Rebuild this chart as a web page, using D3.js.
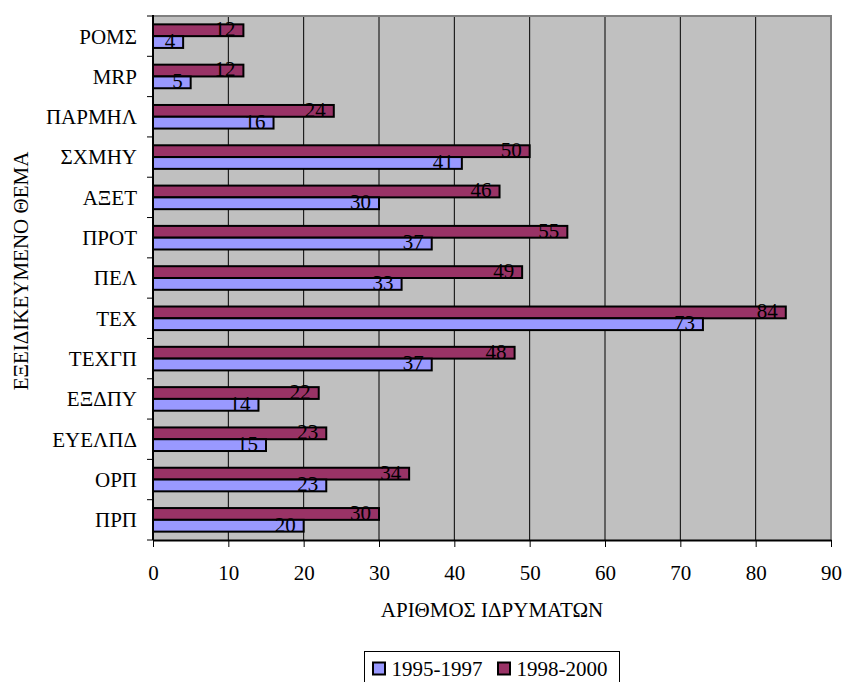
<!DOCTYPE html>
<html>
<head>
<meta charset="utf-8">
<script src="https://cdn.jsdelivr.net/npm/d3@7"></script>
<style>
  html, body { margin: 0; padding: 0; background: #ffffff; }
  svg { display: block; }
  svg text { font-family: "Liberation Serif", "Times New Roman", "DejaVu Serif", serif !important; fill: #000; }
</style>
</head>
<body>
<svg id="chart" width="842" height="682" font-family="Liberation Serif"></svg>
<script>
// Categories, top to bottom
const categories = ["ΡΟΜΣ", "MRP", "ΠΑΡΜΗΛ", "ΣΧΜΗΥ", "ΑΞΕΤ", "ΠΡΟΤ", "ΠΕΛ", "ΤΕΧ", "ΤΕΧΓΠ", "ΕΞΔΠΥ", "ΕΥΕΛΠΔ", "ΟΡΠ", "ΠΡΠ"];
// Number of institutions per period
const values1995_1997 = [4, 5, 16, 41, 30, 37, 33, 73, 37, 14, 15, 23, 20];
const values1998_2000 = [12, 12, 24, 50, 46, 55, 49, 84, 48, 22, 23, 34, 30];
const seriesNames = ["1995-1997", "1998-2000"];
const xTicks = [0, 10, 20, 30, 40, 50, 60, 70, 80, 90];
const xTitle = "ΑΡΙΘΜΟΣ ΙΔΡΥΜΑΤΩΝ";
const yTitle = "ΕΞΕΙΔΙΚΕΥΜΕΝΟ ΘΕΜΑ";

const colors = { "1995-1997": "#9999ff", "1998-2000": "#993366" };
const plot = { left: 153, right: 831, top: 16, bottom: 540 };
const fontSize = 21;

const svg = d3.select("#chart");

const x = d3.scaleLinear().domain([0, 90]).range([plot.left, plot.right]);
const y = d3.scaleBand().domain(categories).range([plot.top, plot.bottom])
  .paddingInner(0.415).paddingOuter(0.2075);
// Inside each group: later period on top, earlier below
const sub = d3.scaleBand().domain(["1998-2000", "1995-1997"]).range([0, y.bandwidth()]);

// Plot background
svg.append("rect")
  .attr("x", plot.left).attr("y", plot.top)
  .attr("width", plot.right - plot.left).attr("height", plot.bottom - plot.top)
  .attr("fill", "#c0c0c0");

// Vertical gridlines
svg.append("g").selectAll("line")
  .data(xTicks.filter(d => d > 0 && d < 90))
  .join("line")
  .attr("x1", d => x(d)).attr("x2", d => x(d))
  .attr("y1", plot.top).attr("y2", plot.bottom)
  .attr("stroke", "#000").attr("stroke-width", 1);

// Top and right frame
svg.append("path")
  .attr("d", `M${plot.left},${plot.top}H${plot.right}V${plot.bottom}`)
  .attr("fill", "none").attr("stroke", "#808080").attr("stroke-width", 2);

// Bars
const rows = categories.map((c, i) => ({
  cat: c,
  bars: [
    { series: "1998-2000", value: values1998_2000[i] },
    { series: "1995-1997", value: values1995_1997[i] }
  ]
}));

const groups = svg.append("g").selectAll("g")
  .data(rows).join("g")
  .attr("transform", d => `translate(0,${y(d.cat)})`);

groups.selectAll("rect")
  .data(d => d.bars).join("rect")
  .attr("x", x(0))
  .attr("y", d => sub(d.series))
  .attr("width", d => x(d.value) - x(0))
  .attr("height", sub.bandwidth())
  .attr("fill", d => colors[d.series])
  .attr("stroke", "#000").attr("stroke-width", 2);

groups.selectAll("text")
  .data(d => d.bars).join("text")
  .attr("x", d => x(d.value) - 8)
  .attr("y", d => sub(d.series) + sub.bandwidth())
  .attr("text-anchor", "end")
  .attr("font-size", fontSize)
  .text(d => d.value);

// X axis
const xAxis = svg.append("g")
  .attr("transform", `translate(0,${plot.bottom})`)
  .call(d3.axisBottom(x).tickValues(xTicks).tickSize(7).tickPadding(18).tickSizeOuter(0));
xAxis.attr("font-family", null);
xAxis.select(".domain").attr("stroke", "#000").attr("stroke-width", 2);
xAxis.selectAll(".tick line").attr("stroke", "#000");
xAxis.selectAll("text").attr("font-size", fontSize);

// Y axis: line, ticks at group boundaries, labels at centres
const boundaries = categories.map(c => y(c) - y.step() * y.paddingInner() / 2).concat([plot.bottom]);
svg.append("line")
  .attr("x1", plot.left).attr("x2", plot.left)
  .attr("y1", plot.top - 1).attr("y2", plot.bottom)
  .attr("stroke", "#000").attr("stroke-width", 2);
svg.append("g").selectAll("line")
  .data(boundaries).join("line")
  .attr("x1", plot.left - 6).attr("x2", plot.left)
  .attr("y1", d => d).attr("y2", d => d)
  .attr("stroke", "#000").attr("stroke-width", 1);
svg.append("g").selectAll("text")
  .data(categories).join("text")
  .attr("x", 137)
  .attr("y", d => y(d) + y.bandwidth() / 2)
  .attr("dy", "0.35em")
  .attr("text-anchor", "end")
  .attr("font-size", fontSize)
  .text(d => d);

// Axis titles
svg.append("text")
  .attr("x", (plot.left + plot.right) / 2).attr("y", 617)
  .attr("text-anchor", "middle").attr("font-size", fontSize)
  .text(xTitle);
svg.append("text")
  .attr("transform", "translate(28,271) rotate(-90)")
  .attr("text-anchor", "middle").attr("font-size", fontSize)
  .text(yTitle);

// Legend
const legend = svg.append("g");
legend.append("rect")
  .attr("x", 364.5).attr("y", 651.5).attr("width", 255).attr("height", 36)
  .attr("fill", "#fff").attr("stroke", "#000").attr("stroke-width", 1);
const legendX = [372, 497];
seriesNames.forEach((s, i) => {
  legend.append("rect")
    .attr("x", legendX[i] + 1).attr("y", 662.5).attr("width", 12).attr("height", 12)
    .attr("fill", colors[s]).attr("stroke", "#000").attr("stroke-width", 2);
  legend.append("text")
    .attr("x", legendX[i] + 19.5).attr("y", 675.5)
    .attr("font-size", fontSize)
    .text(s);
});
</script>
</body>
</html>
